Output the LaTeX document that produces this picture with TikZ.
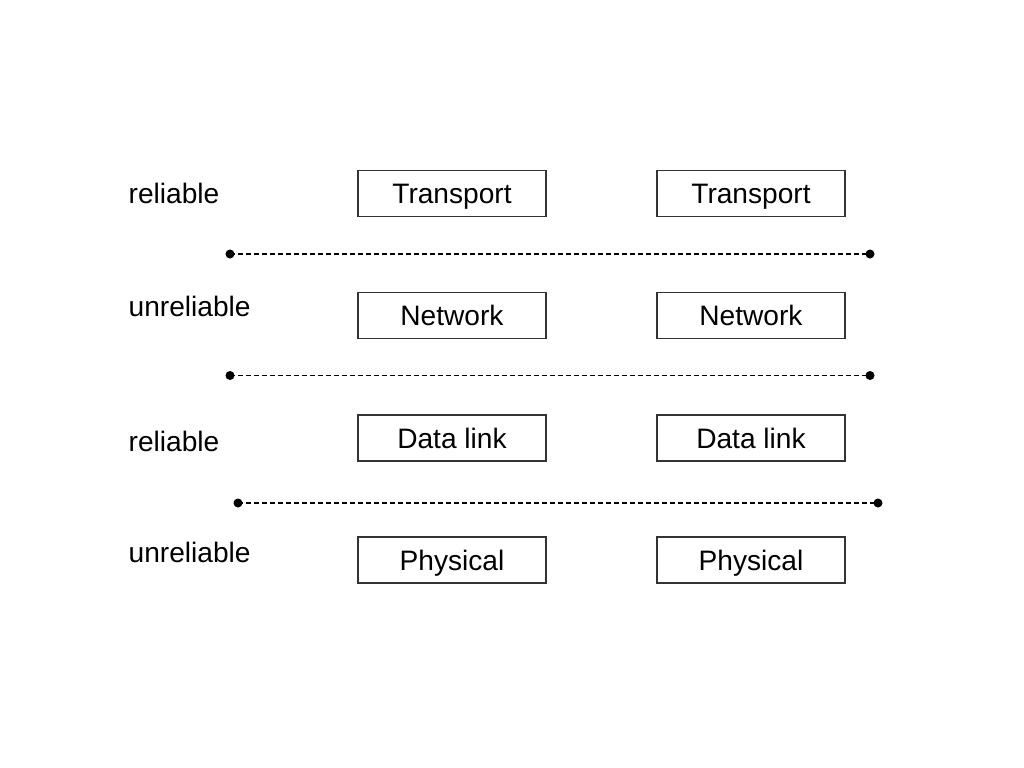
\documentclass[tikz,border=0pt]{standalone}
\usepackage{fontspec}
\setmainfont{Liberation Sans}
\usepackage{tikz}
\tikzset{
  font={\fontsize{8pt}{10}\selectfont}}

\begin{document}
\begin{tikzpicture}[
  layerbox/.style={draw=black!80, line width=0.4pt, minimum width=1.88cm,
    minimum height=0.46cm, inner sep=0pt, text height=0.26cm, text depth=0.05cm},
  sidelabel/.style={anchor=base west, inner sep=0pt},
  boundary/.style={black, line width=0.4pt, dash pattern=on 0.05cm off 0.03cm}]
\useasboundingbox (0,0) rectangle (10.24,-7.68);
\node [sidelabel] (rel1) at (1.28,-2.03) {reliable};
\node [sidelabel] (unrel1) at (1.28,-3.16) {unreliable};
\node [sidelabel] (rel2) at (1.28,-4.51) {reliable};
\node [sidelabel] (unrel2) at (1.28,-5.62) {unreliable};
\node [layerbox] (transA) at (4.52,-1.935) {Transport};
\node [layerbox] (transB) at (7.51,-1.935) {Transport};
\node [layerbox] (netA) at (4.52,-3.155) {Network};
\node [layerbox] (netB) at (7.51,-3.155) {Network};
\node [layerbox] (linkA) at (4.52,-4.38) {Data link};
\node [layerbox] (linkB) at (7.51,-4.38) {Data link};
\node [layerbox] (physA) at (4.52,-5.60) {Physical};
\node [layerbox] (physB) at (7.51,-5.60) {Physical};
\coordinate (cutAL) at (2.30,-2.54);
\coordinate (cutAR) at (8.70,-2.54);
\coordinate (cutBL) at (2.30,-3.755);
\coordinate (cutBR) at (8.70,-3.755);
\coordinate (cutCL) at (2.38,-5.03);
\coordinate (cutCR) at (8.78,-5.03);
\foreach \c in {A,B,C} {
  \draw [boundary] (cut\c L) -- (cut\c R);
  \fill [black] (cut\c L) circle (0.045);
  \fill [black] (cut\c R) circle (0.045);
}
\end{tikzpicture}
\end{document}
